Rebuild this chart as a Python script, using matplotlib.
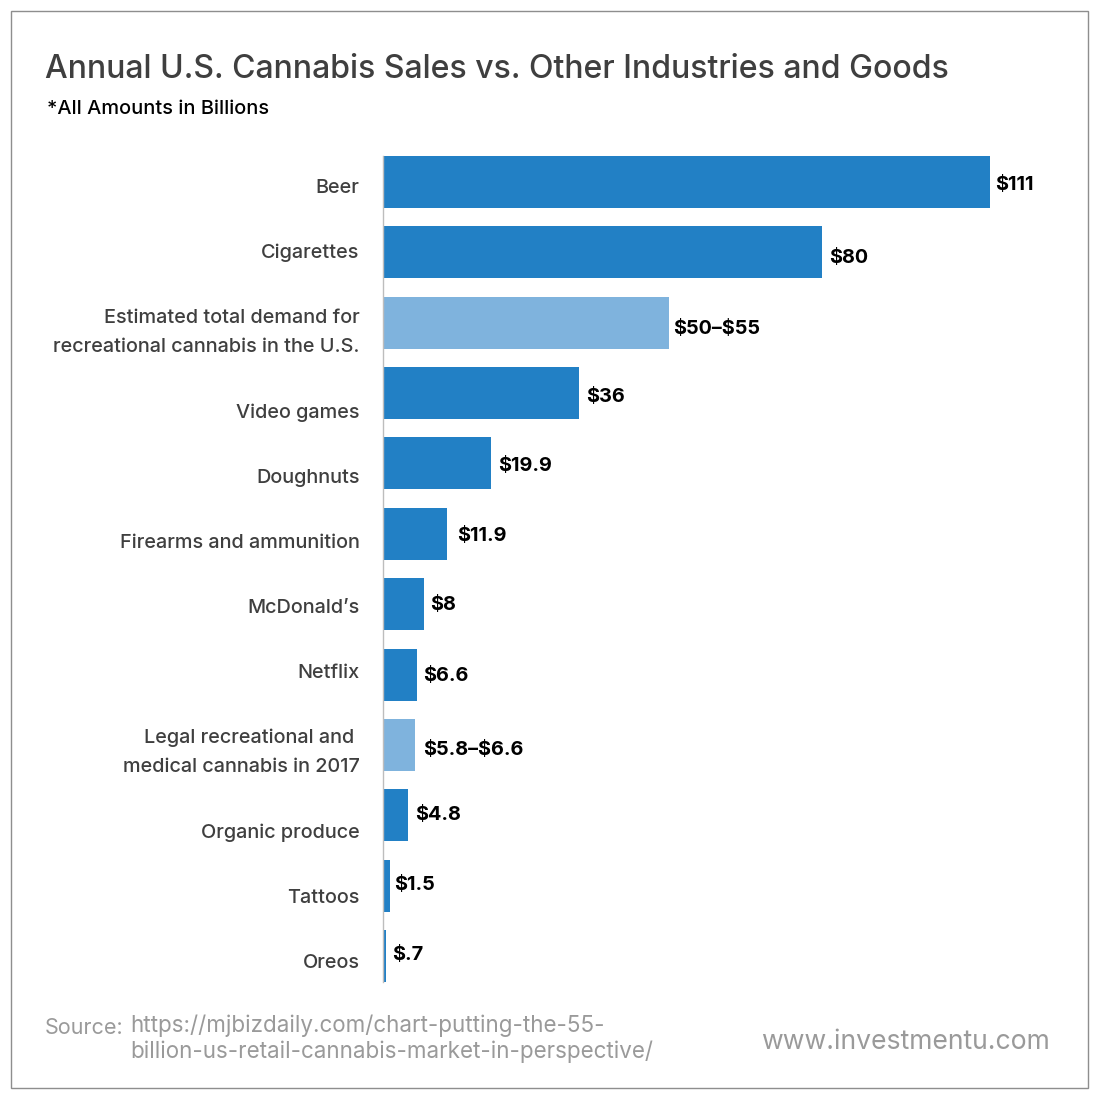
import matplotlib
matplotlib.use("Agg")
import matplotlib.pyplot as plt
from matplotlib.patches import Rectangle

# values, billions of dollars
categories = ["Beer", "Cigarettes", "Estimated total demand for\nrecreational cannabis in the U.S.",
              "Video games", "Doughnuts", "Firearms and ammunition", "McDonald\u2019s", "Netflix",
              "Legal recreational and \nmedical cannabis in 2017", "Organic produce", "Tattoos", "Oreos"]
values = [111, 80.3, 52.3, 35.8, 19.8, 11.7, 7.5, 6.2, 5.85, 4.6, 1.3, 0.55]
value_labels = ["\\$111", "\\$80", "\\$50\u2013\\$55", "\\$36", "\\$19.9", "\\$11.9", "\\$8", "\\$6.6",
                "\\$5.8\u2013\\$6.6", "\\$4.8", "\\$1.5", "\\$.7"]
is_cannabis = [False, False, True, False, False, False, False, False, True, False, False, False]

# pixel offsets of text vs bar centre in the original
label_nudge = [6, 0, 10, 20, 14.5, 9, 4, -1.5, 7.5, 17.5, 12, 7]
value_nudge = [3, 6, 6, 4, 2.5, 2, 1, 1.5, 5, 0, -1, -1]
value_gap = [5, 7, 4, 7, 7, 10, 6, 6, 8, 7, 4, 6]

plt.rcParams["font.family"] = ["Inter", "DejaVu Sans"]
fig = plt.figure(figsize=(11, 11), dpi=100)

# outer frame
fig.add_artist(Rectangle((11 / 1100, 1 - 1088 / 1100), 1077 / 1100, 1077 / 1100, transform=fig.transFigure,
                         fill=False, edgecolor="#8e8e8e", linewidth=1))

# axes spans x=383..990 for $111, y=156..982
ax = fig.add_axes([383 / 1100, 1 - 982 / 1100, 607 / 1100, 826 / 1100])
y = range(len(categories))
colors = ["#7fb3dd" if c else "#2280c5" for c in is_cannabis]
ax.barh(y, values, height=0.74, color=colors)
ax.set_xlim(0, 111)
ax.set_ylim(len(categories) - 1 + 0.37, -0.37)
for s in ["top", "right", "bottom"]:
    ax.spines[s].set_visible(False)
ax.spines["left"].set_color("#bdbdbd")
ax.spines["left"].set_linewidth(1)
ax.set_xticks([])
ax.set_yticks([])
ax.patch.set_alpha(0)

for i, (name, val, lab) in enumerate(zip(categories, values, value_labels)):
    ax.annotate(name, xy=(0, i), xytext=(-23.5 * 0.72, -label_nudge[i] * 0.72), textcoords="offset points",
                ha="right", va="center", fontsize=14.3, color="#3f3f3f", fontweight="medium", linespacing=1.82)
    ax.annotate(lab, xy=(val, i), xytext=(value_gap[i] * 0.72, -value_nudge[i] * 0.72), textcoords="offset points",
                ha="left", va="center", fontsize=14.3, color="black", fontweight="bold", clip_on=False)

fig.text(45 / 1100, 1 - 69 / 1100, "Annual U.S. Cannabis Sales vs. Other Industries and Goods",
         fontsize=23.05, color="#3f3f3f", va="center", fontweight="medium")
fig.text(47 / 1100, 1 - 109 / 1100, "*All Amounts in Billions", fontsize=14.4, color="black", va="center",
         fontweight="medium")
fig.text(45 / 1100, 1 - 1028 / 1100, "Source:", fontsize=15.5, color="#9a9a9a", va="center")
fig.text(130 / 1100, 1 - 1039 / 1100,
         "https://mjbizdaily.com/chart-putting-the-55-\nbillion-us-retail-cannabis-market-in-perspective/",
         fontsize=16.15, color="#9a9a9a", va="center", linespacing=1.21)
fig.text(1050 / 1100, 1 - 1042 / 1100, "www.investmentu.com", fontsize=19.1, color="#9a9a9a", va="center", ha="right")

fig.savefig("out.png", dpi=100)
